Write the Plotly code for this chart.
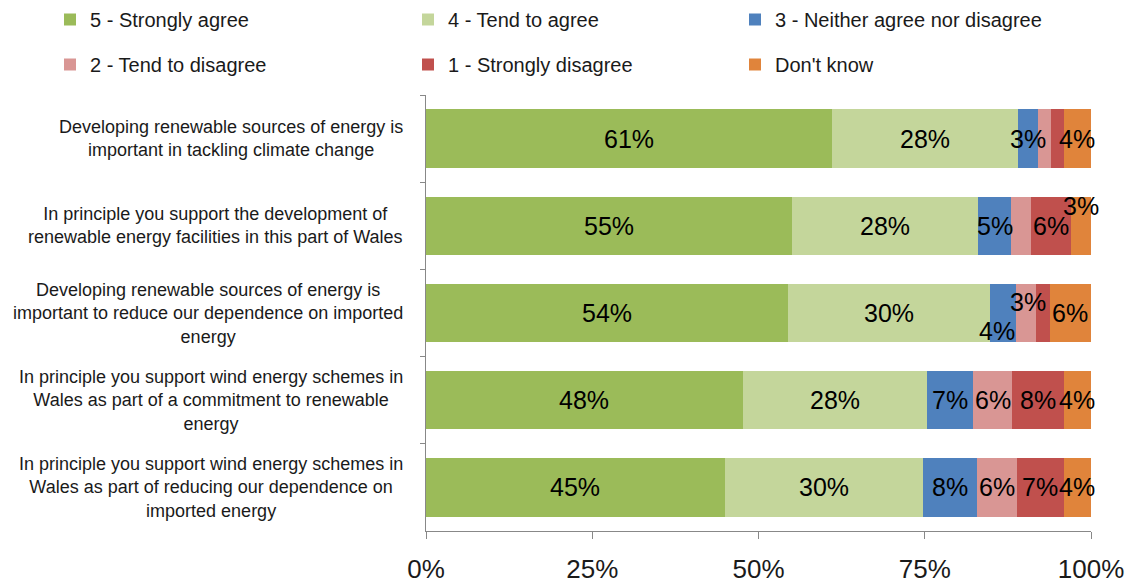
import plotly.graph_objects as go

# Survey statements (wrapped for display)
questions = [
    "Developing renewable sources of energy is<br>important in tackling climate change",
    "In principle you support the development of<br>renewable energy facilities in this part of Wales",
    "Developing renewable sources of energy is<br>important to reduce our dependence on imported<br>energy",
    "In principle you support wind energy schemes in<br>Wales as part of a commitment to renewable<br>energy",
    "In principle you support wind energy schemes in<br>Wales as part of reducing our dependence on<br>imported energy",
]

# Share of respondents (%) per answer
strongly_agree = [61.0, 55.0, 54.4, 47.6, 44.9]
tend_to_agree = [28.0, 28.0, 30.4, 27.7, 29.9]
neither = [3.0, 5.0, 3.9, 7.0, 8.1]
tend_to_disagree = [2.0, 3.0, 3.0, 5.8, 6.0]
strongly_disagree = [1.9, 6.0, 2.1, 7.8, 7.0]
dont_know = [4.1, 3.0, 6.2, 4.1, 4.1]

series_names = [
    "5 - Strongly agree",
    "4 - Tend to agree",
    "3 - Neither agree nor disagree",
    "2 - Tend to disagree",
    "1 - Strongly disagree",
    "Don't know",
]
series_values = [strongly_agree, tend_to_agree, neither,
                 tend_to_disagree, strongly_disagree, dont_know]

x_ticks = [0, 25, 50, 75, 100]
x_tick_labels = ["0%", "25%", "50%", "75%", "100%"]

colors = ["#9BBB59", "#C4D69B", "#4F81BD", "#D99694", "#C0504D", "#E0843B"]
# legend column each series is listed in
legend_of = ["legend", "legend2", "legend3", "legend", "legend2", "legend3"]

FONT = "Liberation Sans, Arial, sans-serif"

# label nudges (pixels) for crowded segments: (row, series) -> (dx, dy)
label_nudge = {(1, 5): (0, -20), (2, 2): (-6, 18), (2, 3): (2, -11)}
hidden_labels = {(1, 3)}

fig = go.Figure()
for name, vals, col, lg in zip(series_names, series_values, colors, legend_of):
    fig.add_trace(go.Bar(
        y=questions, x=vals, name=name, orientation="h",
        marker=dict(color=col, line=dict(width=0)),
        legend=lg, legendgroup=name, hoverinfo="skip",
    ))

# value labels centred on each segment
annotations = []
for r, q in enumerate(questions):
    start = 0.0
    for s, vals in enumerate(series_values):
        v = vals[r]
        if v >= 2.5 and (r, s) not in hidden_labels:
            dx, dy = label_nudge.get((r, s), (0, 0))
            annotations.append(dict(
                x=start + v / 2, y=q, xref="x", yref="y",
                text=f"{round(v)}%", showarrow=False,
                xshift=dx, yshift=-dy,
                font=dict(family=FONT, size=25, color="#000000"),
            ))
        start += v

# category labels, centred lines, right edge next to the axis
for q in questions:
    annotations.append(dict(
        x=0, y=q, xref="paper", yref="y", text=q, showarrow=False,
        xanchor="right", yanchor="middle", align="center", xshift=-21,
        font=dict(family=FONT, size=18, color="#1a1a1a"),
    ))

L, R, T, B = 426, 40, 95, 51
W, H = 1131, 582
pw, ph = W - L - R, H - T - B


def px_x(px):
    return (px - L) / pw


def px_y(py):
    return 1 + (T - py) / ph


legend_common = dict(
    orientation="v", xanchor="left", yanchor="top",
    traceorder="grouped", tracegroupgap=16,
    font=dict(family=FONT, size=20, color="#1a1a1a"),
    bgcolor="rgba(0,0,0,0)", itemclick=False, itemdoubleclick=False,
)

fig.update_layout(
    width=W, height=H,
    margin=dict(l=L, r=R, t=T, b=B, pad=0, autoexpand=False),
    barmode="stack", bargap=0.33,
    plot_bgcolor="white", paper_bgcolor="white",
    font=dict(family=FONT, color="#1a1a1a"),
    annotations=annotations,
    legend=dict(x=px_x(50), y=px_y(0), **legend_common),
    legend2=dict(x=px_x(408), y=px_y(0), **legend_common),
    legend3=dict(x=px_x(735), y=px_y(0), **legend_common),
    xaxis=dict(
        range=[0, 100], tickvals=x_ticks, ticktext=x_tick_labels,
        showline=True, linecolor="#888888", linewidth=1,
        ticks="outside", ticklen=7, tickcolor="#888888",
        ticklabelstandoff=8, automargin=False,
        tickfont=dict(family=FONT, size=26, color="#1a1a1a"),
        showgrid=False, zeroline=False, fixedrange=True,
    ),
    yaxis=dict(
        type="category", categoryorder="array", categoryarray=questions,
        autorange="reversed", automargin=False,
        showline=True, linecolor="#888888", linewidth=1,
        ticks="outside", tickson="boundaries", ticklen=5,
        tickcolor="#888888", showticklabels=False,
        showgrid=False, zeroline=False, fixedrange=True,
    ),
)

fig.write_html("out.html", config={"displayModeBar": False})
